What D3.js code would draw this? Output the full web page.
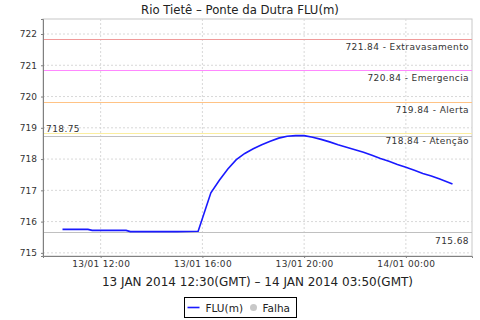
<!DOCTYPE html>
<html>
<head>
<meta charset="utf-8">
<script src="https://cdn.jsdelivr.net/npm/d3@7"></script>
<style>
  body { margin: 0; background: #fff; }
  svg { display: block; font-family: "DejaVu Sans", sans-serif; }
</style>
</head>
<body>
<svg id="chart" width="480" height="320"></svg>
<script>
// level readings (local time, GMT-2)
const times = ["2014-01-13T10:30","2014-01-13T11:00","2014-01-13T11:30","2014-01-13T11:40","2014-01-13T12:30",
  "2014-01-13T13:00","2014-01-13T13:10","2014-01-13T14:00","2014-01-13T15:00","2014-01-13T15:50",
  "2014-01-13T16:20","2014-01-13T16:40","2014-01-13T17:00","2014-01-13T17:20","2014-01-13T17:40",
  "2014-01-13T18:00","2014-01-13T18:20","2014-01-13T18:40","2014-01-13T19:00","2014-01-13T19:20",
  "2014-01-13T19:40","2014-01-13T20:00","2014-01-13T20:20","2014-01-13T20:40","2014-01-13T21:00",
  "2014-01-13T21:20","2014-01-13T21:40","2014-01-13T22:00","2014-01-13T22:20","2014-01-13T22:40",
  "2014-01-13T23:00","2014-01-13T23:20","2014-01-13T23:40","2014-01-14T00:00","2014-01-14T00:20",
  "2014-01-14T00:40","2014-01-14T01:00","2014-01-14T01:20","2014-01-14T01:50"];
const levels = [715.75,715.75,715.75,715.72,715.72,
  715.72,715.68,715.68,715.68,715.69,
  716.92,717.32,717.68,717.98,718.18,
  718.33,718.46,718.57,718.67,718.73,
  718.75,718.75,718.70,718.63,718.55,
  718.46,718.38,718.30,718.22,718.12,
  718.02,717.93,717.83,717.74,717.64,
  717.54,717.46,717.36,717.20];

// reference levels
const markerValues = [721.84, 720.84, 719.84, 718.84];
const markerNames = ["Extravasamento", "Emergencia", "Alerta", "Atenção"];
const markerColors = ["#f09a9a", "#ff88ff", "#ffc385", "#fbeea0"];

const yTicks = [715, 716, 717, 718, 719, 720, 721, 722];
const title = "Rio Tietê – Ponte da Dutra FLU(m)";
const subtitle = "13 JAN 2014 12:30(GMT) – 14 JAN 2014 03:50(GMT)";

const parse = d3.utcParse("%Y-%m-%dT%H:%M");
const data = times.map((t, i) => ({date: parse(t), value: levels[i]}));

const margin = {top: 19, right: 8, bottom: 64, left: 43};
const width = 480, height = 320;
const innerW = width - margin.left - margin.right;
const innerH = height - margin.top - margin.bottom;

const svg = d3.select("#chart");

const t0 = data[0].date, t1 = data[data.length - 1].date;
const pad = (t1 - t0) * 0.05;
const x = d3.scaleUtc()
    .domain([new Date(+t0 - pad), new Date(+t1 + pad)])
    .range([0, innerW]);
const y = d3.scaleLinear()
    .domain([714.9, 722.48])
    .range([innerH, 0]);

const g = svg.append("g").attr("transform", `translate(${margin.left},${margin.top})`);

// title
svg.append("text")
    .attr("x", 240).attr("y", 14)
    .attr("text-anchor", "middle")
    .attr("font-size", 11.7)
    .attr("fill", "#222")
    .text(title);

// plot border
g.append("rect")
    .attr("width", innerW).attr("height", innerH)
    .attr("fill", "#fff").attr("stroke", "#c8c8c8");

// grid
const xTicks = x.ticks(d3.utcHour.every(4));
g.append("g").selectAll("line")
    .data(xTicks)
    .join("line")
    .attr("x1", d => x(d)).attr("x2", d => x(d))
    .attr("y1", 0).attr("y2", innerH)
    .attr("stroke", "#d8d8d8").attr("stroke-dasharray", "2,2");
g.append("g").selectAll("line")
    .data(yTicks)
    .join("line")
    .attr("x1", 0).attr("x2", innerW)
    .attr("y1", d => y(d)).attr("y2", d => y(d))
    .attr("stroke", "#d8d8d8").attr("stroke-dasharray", "2,2");

// min / max lines
const maxV = d3.max(levels), minV = d3.min(levels);
g.append("g").selectAll("line")
    .data([maxV, minV])
    .join("line")
    .attr("x1", 0).attr("x2", innerW)
    .attr("y1", d => Math.round(y(d)) + 0.5).attr("y2", d => Math.round(y(d)) + 0.5)
    .attr("stroke", "#c0c0c0");

// marker lines
g.append("g").selectAll("line")
    .data(markerValues)
    .join("line")
    .attr("x1", 0).attr("x2", innerW)
    .attr("y1", d => Math.round(y(d)) + 0.5).attr("y2", d => Math.round(y(d)) + 0.5)
    .attr("stroke", (d, i) => markerColors[i]);

const labelFont = 9;
g.append("g").selectAll("text")
    .data(markerValues)
    .join("text")
    .attr("x", innerW - 3)
    .attr("y", d => y(d) + 11)
    .attr("text-anchor", "end")
    .attr("font-size", labelFont)
    .attr("letter-spacing", 0.4)
    .attr("fill", "#333")
    .text((d, i) => `${d.toFixed(2)} - ${markerNames[i]}`);

g.append("text")
    .attr("x", 3).attr("y", y(maxV) - 4)
    .attr("font-size", labelFont).attr("letter-spacing", 0.4)
    .attr("fill", "#333")
    .text(maxV.toFixed(2));
g.append("text")
    .attr("x", innerW - 3).attr("y", y(minV) + 12)
    .attr("text-anchor", "end")
    .attr("font-size", labelFont).attr("letter-spacing", 0.4)
    .attr("fill", "#333")
    .text(minV.toFixed(2));

// series
const line = d3.line().x(d => x(d.date)).y(d => y(d.value));
g.append("path")
    .datum(data)
    .attr("d", line)
    .attr("fill", "none")
    .attr("stroke", "#1a1aff")
    .attr("stroke-width", 1.6);

// axes
const yAxis = g.append("g")
    .call(d3.axisLeft(y).tickValues(yTicks).tickSize(2).tickPadding(4).tickFormat(d3.format("d")));
const xAxis = g.append("g")
    .attr("transform", `translate(0,${innerH})`)
    .call(d3.axisBottom(x).tickValues(xTicks).tickSize(2).tickPadding(3).tickFormat(d3.utcFormat("%d/%m %H:%M")));
[yAxis, xAxis].forEach(a => {
  a.select(".domain").attr("stroke", "#808080");
  a.selectAll(".tick line").attr("stroke", "#808080");
  a.selectAll(".tick text").attr("font-family", "DejaVu Sans").attr("font-size", 9).attr("fill", "#333");
});
xAxis.selectAll(".tick text").attr("letter-spacing", 0.3);

// subtitle (time range)
svg.append("text")
    .attr("x", margin.left + innerW / 2).attr("y", 286)
    .attr("text-anchor", "middle")
    .attr("font-size", 12)
    .attr("fill", "#222")
    .text(subtitle);

// legend
const lg = svg.append("g").attr("transform", "translate(184.5,297.5)");
lg.append("rect").attr("width", 112).attr("height", 20)
    .attr("fill", "#fff").attr("stroke", "#000");
lg.append("line").attr("x1", 3).attr("x2", 15).attr("y1", 10).attr("y2", 10)
    .attr("stroke", "#1a1aff").attr("stroke-width", 1.6);
lg.append("text").attr("x", 21).attr("y", 14).attr("font-size", 10.5).attr("fill", "#222").text("FLU(m)");
lg.append("circle").attr("cx", 69).attr("cy", 10).attr("r", 3.5).attr("fill", "#c8c8c8");
lg.append("text").attr("x", 78).attr("y", 14).attr("font-size", 10.5).attr("fill", "#222").text("Falha");
</script>
</body>
</html>
